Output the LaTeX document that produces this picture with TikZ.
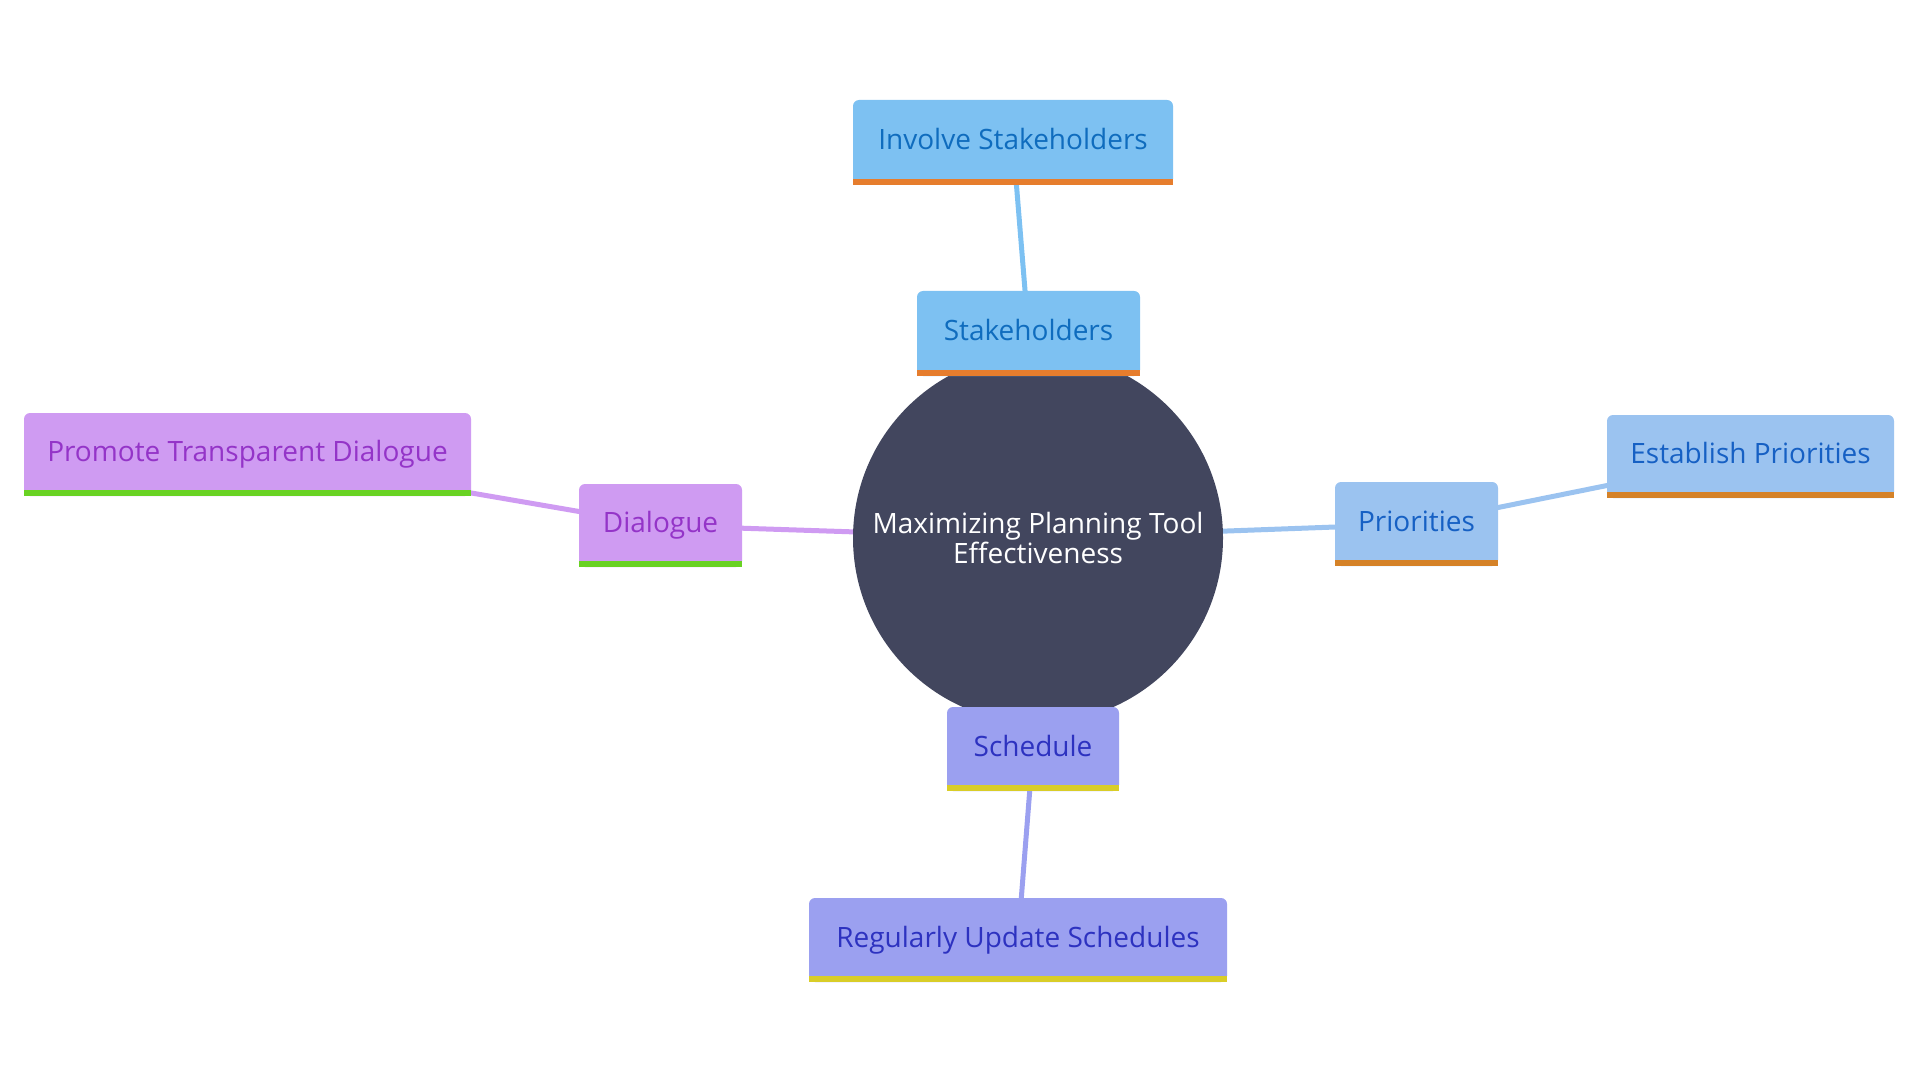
\documentclass[tikz,border=0pt]{standalone}
\usepackage{fontspec}
\setmainfont{Open Sans}
\usetikzlibrary{backgrounds}
\definecolor{cbg}{RGB}{66,70,94}
\definecolor{sfill}{RGB}{125,193,242}
\definecolor{stext}{RGB}{15,108,190}
\definecolor{sbar}{RGB}{230,125,45}
\definecolor{pfill}{RGB}{155,195,240}
\definecolor{ptext}{RGB}{22,96,196}
\definecolor{pbar}{RGB}{213,130,40}
\definecolor{hfill}{RGB}{155,160,240}
\definecolor{htext}{RGB}{45,50,192}
\definecolor{hbar}{RGB}{217,205,40}
\definecolor{dfill}{RGB}{207,155,242}
\definecolor{dtext}{RGB}{148,52,200}
\definecolor{dbar}{RGB}{105,210,35}
\tikzset{
  x=0.5pt, y=-0.5pt,
  box/.style={rounded corners=3pt, inner sep=0pt, text height=11pt, text depth=4pt,
              font=\fontsize{14}{15}\selectfont},
  sbox/.style={box, fill=sfill, text=stext},
  pbox/.style={box, fill=pfill, text=ptext},
  hbox/.style={box, fill=hfill, text=htext},
  dbox/.style={box, fill=dfill, text=dtext},
  link/.style={line width=2.5pt},
}
\newcommand{\mybar}[2]{\fill[#2] (#1.south west) rectangle ([yshift=3pt]#1.south east);}
\begin{document}
\begin{tikzpicture}
\useasboundingbox (0,0) rectangle (1920,1080);
\node[circle, fill=cbg, minimum size=185pt, inner sep=0pt, text=white, align=center,
      font=\fontsize{14}{15.3}\selectfont] (root) at (1038,538) {Maximizing Planning Tool\\Effectiveness};
\node[sbox, minimum width=160pt, minimum height=42.5pt] (inv) at (1013,142.5) {Involve Stakeholders};
\node[sbox, minimum width=111.5pt, minimum height=42.5pt] (stk) at (1028.5,333.5) {Stakeholders};
\node[hbox, minimum width=86pt, minimum height=42pt] (sch) at (1033,749) {Schedule};
\node[hbox, minimum width=209pt, minimum height=42pt] (reg) at (1018,940) {Regularly Update Schedules};
\node[dbox, minimum width=81.5pt, minimum height=41.5pt] (dia) at (660.5,525.5) {Dialogue};
\node[dbox, minimum width=223.5pt, minimum height=41.5pt] (pro) at (247.5,454.5) {Promote Transparent Dialogue};
\node[pbox, minimum width=81.5pt, minimum height=42pt] (pri) at (1416.5,524) {Priorities};
\node[pbox, minimum width=143.5pt, minimum height=41.5pt] (est) at (1750.5,456.5) {Establish Priorities};
\mybar{inv}{sbar}
\mybar{stk}{sbar}
\mybar{sch}{hbar}
\mybar{reg}{hbar}
\mybar{dia}{dbar}
\mybar{pro}{dbar}
\mybar{pri}{pbar}
\mybar{est}{pbar}
\begin{scope}[on background layer]
\draw[link, sfill] (root.center) -- (stk.center);
\draw[link, sfill] (stk.center) -- (inv.center);
\draw[link, hfill] (root.center) -- (sch.center);
\draw[link, hfill] (sch.center) -- (reg.center);
\draw[link, dfill] (root.center) -- (dia.center);
\draw[link, dfill] (dia.center) -- (pro.center);
\draw[link, pfill] (root.center) -- (pri.center);
\draw[link, pfill] (pri.center) -- (est.center);
\end{scope}
\end{tikzpicture}
\end{document}
